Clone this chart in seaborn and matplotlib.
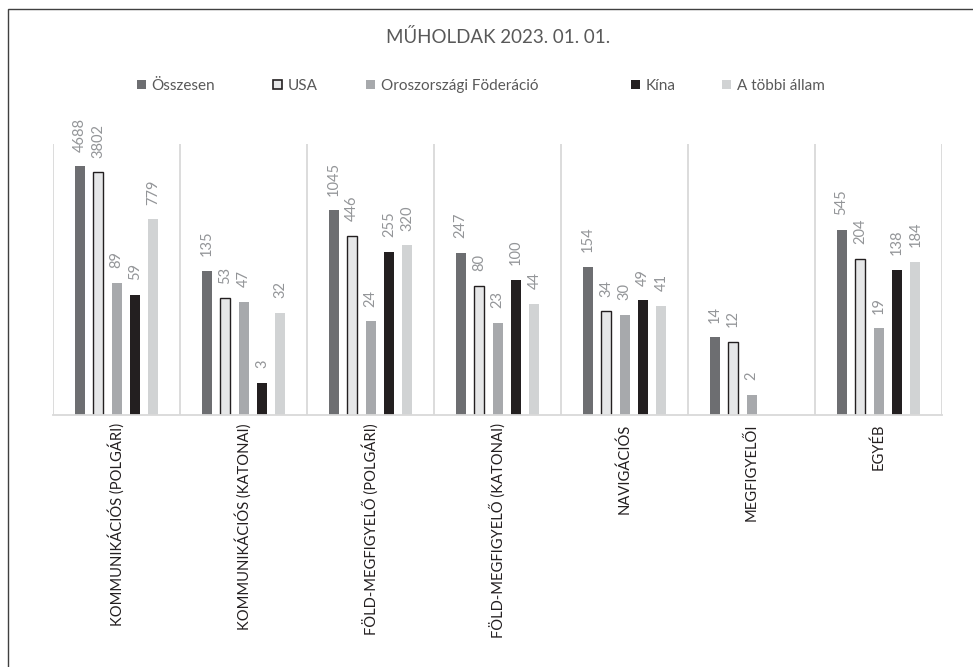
import numpy as np
import pandas as pd
import matplotlib
matplotlib.use("Agg")
import matplotlib.pyplot as plt
import matplotlib.patches as mpatches
import seaborn as sns

categories = ["KOMMUNIKÁCIÓS (POLGÁRI)", "KOMMUNIKÁCIÓS (KATONAI)",
              "FÖLD-MEGFIGYELŐ (POLGÁRI)", "FÖLD-MEGFIGYELŐ (KATONAI)",
              "NAVIGÁCIÓS", "MEGFIGYELŐI", "EGYÉB"]
series = ["Összesen", "USA", "Oroszországi Föderáció", "Kína", "A többi állam"]
osszesen = [4688, 135, 1045, 247, 154, 14, 545]
usa = [3802, 53, 446, 80, 34, 12, 204]
orosz = [89, 47, 24, 23, 30, 2, 19]
kina = [59, 3, 255, 100, 49, np.nan, 138]
tobbi = [779, 32, 320, 44, 41, np.nan, 184]
title = "MŰHOLDAK 2023. 01. 01."

colors = ["#6d6e71", "#e6e7e8", "#a7a9ac", "#231f20", "#d1d3d4"]

rows = []
for s, vals in zip(series, [osszesen, usa, orosz, kina, tobbi]):
    for c, v in zip(categories, vals):
        rows.append({"cat": c, "series": s, "value": v})
df = pd.DataFrame(rows)

sns.set_theme(style="white")
plt.rcParams["font.family"] = ["Lato", "DejaVu Sans"]

W, H = 973, 667
fig = plt.figure(figsize=(W / 100, H / 100), dpi=100)
ax = fig.add_axes([53 / W, 1 - 415 / H, (942 - 53) / W, (415 - 144) / H])
ax.set_yscale("log")

sns.barplot(data=df, x="cat", y="value", hue="series", order=categories,
            hue_order=series, palette=colors, width=0.728, saturation=1,
            legend=False, ax=ax, errorbar=None)
ax.set_ylim(1, 10000)
ax.set_xlim(-0.5, len(categories) - 0.5)

bar_w = 10 / ((942 - 53) / len(categories))
for i, cont in enumerate(ax.containers):
    for p, v in zip(cont.patches, cont.datavalues):
        cx = p.get_x() + p.get_width() / 2
        p.set_x(cx - bar_w / 2)
        p.set_width(bar_w)
        if series[i] == "USA":
            p.set_edgecolor("#231f20")
            p.set_linewidth(1.0)
        else:
            p.set_linewidth(0)
        if np.isfinite(v) and v > 0:
            ax.annotate(f"{v:g}", xy=(cx, v), xytext=(0, 10.5),
                        textcoords="offset points", rotation=90,
                        rotation_mode="anchor", ha="left", va="center",
                        color="#939598", fontsize=10.5)

# category separators
ax.set_xticks(np.arange(len(categories) + 1) - 0.5, minor=True)
ax.grid(which="minor", axis="x", color="#d9d9d9", linewidth=1.3)
ax.grid(which="major", visible=False)
ax.tick_params(axis="x", which="both", length=0, pad=6, labelsize=10.6,
               labelcolor="#231f20")
ax.set_xticks(range(len(categories)))
ax.set_xticklabels(categories, rotation=90, va="top", ha="center")
ax.set_yticks([])
ax.yaxis.set_minor_locator(matplotlib.ticker.NullLocator())
ax.set_xlabel("")
ax.set_ylabel("")
for s in ["left", "right", "top"]:
    ax.spines[s].set_visible(False)
ax.spines["bottom"].set_color("#d9d9d9")
ax.spines["bottom"].set_linewidth(1.3)

fig.text(498 / W, 1 - 43 / H, title, ha="center", va="baseline",
         fontsize=13.5, color="#595959")

legend_x = [137, 273, 366, 631, 722]
for s, c, x in zip(series, colors, legend_x):
    h = mpatches.Patch(facecolor=c, edgecolor="#231f20" if s == "USA" else c,
                       linewidth=1.2 if s == "USA" else 0)
    lg = fig.legend(handles=[h], labels=[s], loc="center left",
                    bbox_to_anchor=(x / W, 1 - 86 / H), frameon=False,
                    handlelength=0.6, handleheight=0.6, handletextpad=0.35,
                    borderpad=0, borderaxespad=0, fontsize=11)
    for t in lg.get_texts():
        t.set_color("#595959")

border = mpatches.Rectangle((8 / W, -0.5), 1.5, 0.5 + 1 - 9 / H,
                            transform=fig.transFigure, fill=False,
                            edgecolor="#404040", linewidth=1.0)
fig.patches.append(border)

fig.savefig("out.png", dpi=100)
